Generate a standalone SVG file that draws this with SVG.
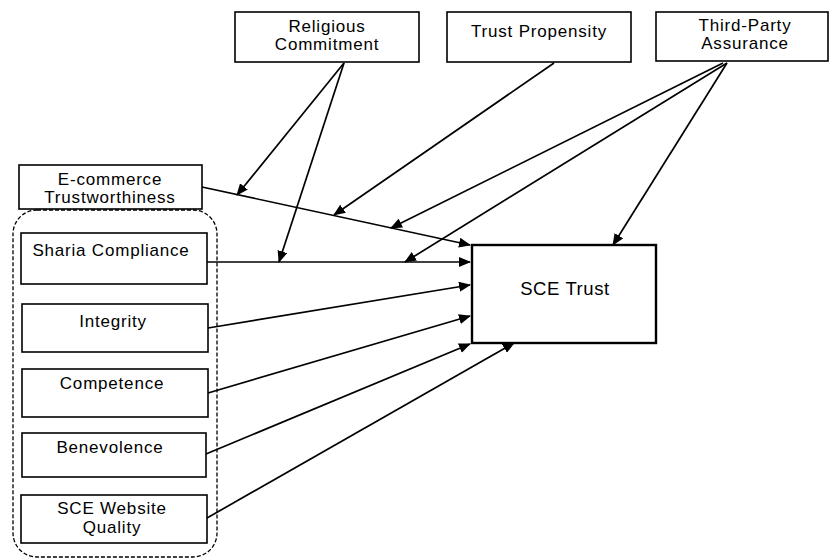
<svg xmlns="http://www.w3.org/2000/svg" width="830" height="560" viewBox="0 0 830 560">
<defs>
<marker id="ah" markerWidth="12" markerHeight="10" refX="11" refY="5" orient="auto" markerUnits="userSpaceOnUse">
<path d="M0,0 L12,5 L0,10 Z" fill="#000"/>
</marker>
<style>
.box{fill:#fff;stroke:#000;stroke-width:1.6}
.t{font-family:"Liberation Sans",Arial,sans-serif;font-size:17px;letter-spacing:0.8px;fill:#000;text-anchor:middle}
.c{stroke:#000;stroke-width:1.7;fill:none;marker-end:url(#ah)}
</style>
</defs>
<rect width="830" height="560" fill="#fff"/>
<g id="group-box">
<rect x="13" y="210" width="204" height="347" rx="24" ry="24" fill="none" stroke="#000" stroke-width="1.3" stroke-dasharray="4,2"/>
</g>
<g id="religious-commitment">
<rect class="box" x="235" y="12" width="184" height="50"/>
<text class="t" x="327" y="32">Religious</text>
<text class="t" x="327" y="50">Commitment</text>
</g>
<g id="trust-propensity">
<rect class="box" x="447" y="12" width="184" height="50"/>
<text class="t" x="539" y="37">Trust Propensity</text>
</g>
<g id="third-party-assurance">
<rect class="box" x="656" y="12" width="172" height="49"/>
<text class="t" x="745" y="31">Third-Party</text>
<text class="t" x="745" y="49">Assurance</text>
</g>
<g id="ecommerce-trustworthiness">
<rect class="box" x="19" y="165" width="183" height="44"/>
<text class="t" x="110" y="185">E-commerce</text>
<text class="t" x="110" y="203">Trustworthiness</text>
</g>
<g id="sharia-compliance">
<rect class="box" x="21" y="233" width="186" height="51"/>
<text class="t" x="111" y="256">Sharia Compliance</text>
</g>
<g id="integrity">
<rect class="box" x="22" y="304" width="186" height="48"/>
<text class="t" x="113" y="327">Integrity</text>
</g>
<g id="competence">
<rect class="box" x="22" y="369" width="186" height="48"/>
<text class="t" x="112" y="389">Competence</text>
</g>
<g id="benevolence">
<rect class="box" x="22" y="433" width="184" height="44"/>
<text class="t" x="110" y="453">Benevolence</text>
</g>
<g id="sce-website-quality">
<rect class="box" x="21" y="495" width="186" height="48"/>
<text class="t" x="112" y="514">SCE Website</text>
<text class="t" x="112" y="533">Quality</text>
</g>
<g id="sce-trust">
<rect x="472" y="245" width="184" height="98" fill="#fff" stroke="#000" stroke-width="2.4"/>
<text class="t" x="565" y="295" style="font-size:18.5px;letter-spacing:0.6px">SCE Trust</text>
</g>
<g id="connectors">
<line class="c" x1="202" y1="187" x2="470" y2="245"/>
<line class="c" x1="207" y1="262" x2="470" y2="262"/>
<line class="c" x1="344" y1="63" x2="237" y2="195"/>
<line class="c" x1="344" y1="63" x2="279" y2="262"/>
<line class="c" x1="554" y1="63" x2="334" y2="215"/>
<line class="c" x1="723" y1="63" x2="391" y2="228"/>
<line class="c" x1="727" y1="63" x2="405" y2="262"/>
<line class="c" x1="727" y1="63" x2="613" y2="245"/>
<line class="c" x1="208" y1="328" x2="470" y2="285"/>
<line class="c" x1="208" y1="393" x2="470" y2="316"/>
<line class="c" x1="206" y1="454" x2="470" y2="344"/>
<line class="c" x1="207" y1="518" x2="514" y2="343"/>
</g>
</svg>
